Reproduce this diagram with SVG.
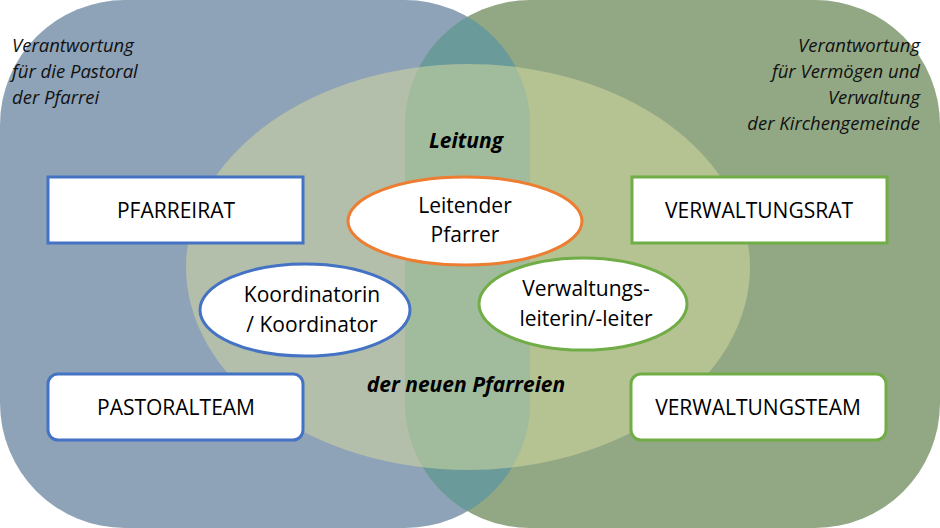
<svg xmlns="http://www.w3.org/2000/svg" width="940" height="528" viewBox="0 0 940 528">
<style>
.t{font-family:"Open Sans","DejaVu Sans",sans-serif;font-size:21px;fill:#000;text-anchor:middle}
.i{font-family:"Open Sans","DejaVu Sans",sans-serif;font-size:18.5px;font-style:italic;fill:#111}
.b{font-family:"Open Sans","DejaVu Sans",sans-serif;font-size:21px;font-style:italic;font-weight:bold;text-anchor:middle}
.bx{fill:#fff;stroke-width:3}
</style>
<defs>
<clipPath id="cl"><rect x="0" y="0" width="530" height="528" rx="125"/></clipPath>
</defs>
<g id="bg">
<rect x="0" y="0" width="530" height="528" rx="125" fill="#8ea3b7"/>
<rect x="405" y="0" width="535" height="528" rx="125" fill="#92a884"/>
<rect x="405" y="0" width="535" height="528" rx="125" fill="#6b9a9a" clip-path="url(#cl)"/>
<ellipse cx="468" cy="267" rx="282" ry="203" fill="#d8dca0" fill-opacity="0.5"/>
</g>
<g id="labels">
<text class="i" x="12" y="52">Verantwortung</text>
<text class="i" x="12" y="78">für die Pastoral</text>
<text class="i" x="12" y="104">der Pfarrei</text>
<text class="i" x="920" y="52" text-anchor="end">Verantwortung</text>
<text class="i" x="920" y="78" text-anchor="end">für Vermögen und</text>
<text class="i" x="920" y="104" text-anchor="end">Verwaltung</text>
<text class="i" x="920" y="130" text-anchor="end">der Kirchengemeinde</text>
<text class="b" x="466" y="148">Leitung</text>
<text class="b" x="466" y="392">der neuen Pfarreien</text>
</g>
<g id="pfarreirat"><rect class="bx" x="48" y="177" width="255" height="66" stroke="#4472c4"/><text class="t" x="176" y="218">PFARREIRAT</text></g>
<g id="verwaltungsrat"><rect class="bx" x="632" y="177" width="255" height="66" stroke="#70ad47"/><text class="t" x="759" y="218">VERWALTUNGSRAT</text></g>
<g id="pastoralteam"><rect class="bx" x="48" y="374" width="255" height="66" rx="10" stroke="#4472c4"/><text class="t" x="176" y="415">PASTORALTEAM</text></g>
<g id="verwaltungsteam"><rect class="bx" x="631" y="374" width="255" height="66" rx="10" stroke="#70ad47"/><text class="t" x="758" y="415">VERWALTUNGSTEAM</text></g>
<g id="pfarrer"><ellipse class="bx" cx="465" cy="221" rx="117" ry="44" stroke="#ed7d31"/><text class="t" x="465" y="213">Leitender</text><text class="t" x="465" y="242">Pfarrer</text></g>
<g id="koordinator"><ellipse class="bx" cx="305" cy="310" rx="105" ry="46" stroke="#4472c4"/><text class="t" x="312" y="302">Koordinatorin</text><text class="t" x="312" y="332">/ Koordinator</text></g>
<g id="verwaltungsleiter"><ellipse class="bx" cx="583" cy="304" rx="104" ry="46" stroke="#70ad47"/><text class="t" x="586" y="296">Verwaltungs-</text><text class="t" x="586" y="326">leiterin/-leiter</text></g>
<g id="connectors"/>
</svg>
